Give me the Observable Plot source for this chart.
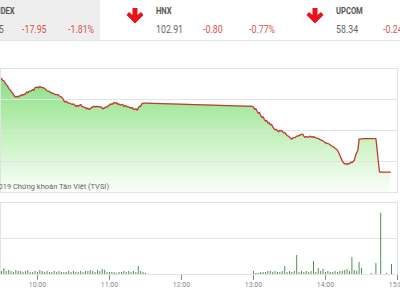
<!DOCTYPE html>
<html><head><meta charset="utf-8">
<script src="https://cdn.jsdelivr.net/npm/d3@7"></script>
<script src="https://cdn.jsdelivr.net/npm/@observablehq/plot@0.6"></script>
<style>
html,body{margin:0;padding:0}
body{width:400px;height:300px;overflow:hidden;background:#fff;font-family:Roboto,sans-serif;position:relative}
.hdr{position:absolute;left:0;top:0;width:400px;height:40px;border-bottom:1px solid #e4e4e4}
.box{position:absolute;left:0;top:0;width:100px;height:40px;background:#eeeeee}
.t{position:absolute;white-space:nowrap;line-height:1;transform-origin:0 0;transform:scaleX(0.8)}
.r{position:absolute;white-space:nowrap;line-height:1;text-align:right;transform-origin:100% 0;transform:scaleX(0.8)}
.name{font-weight:bold;color:#555;font-size:9.5px;top:6px}
.val{font-size:11px;top:24px;color:#666}
.red{color:#d9534f}
.arrow{position:absolute;top:8px}
#main{position:absolute;left:0;top:60px}
#vol{position:absolute;left:0;top:195px}
</style></head><body>
<div class="hdr">
  <div class="box"></div>
  <div class="r name" style="right:385px">VN-INDEX</div>
  <div class="r val" style="right:396px">973.75</div>
  <div class="t val red" style="left:22px">-17.95</div>
  <div class="t val red" style="left:68px">-1.81%</div>
  <svg class="arrow" style="left:126px" width="18" height="16" viewBox="0 0 18 16"><path d="M6.5 0h5v7l3.5-3l2.5 3l-8.5 8.5l-8.5-8.5l2.5-3l3.5 3z" fill="#e8121b"/></svg>
  <div class="t name" style="left:156px">HNX</div>
  <div class="t val" style="left:156px">102.91</div>
  <div class="t val red" style="left:203px">-0.80</div>
  <div class="t val red" style="left:249px">-0.77%</div>
  <svg class="arrow" style="left:306px" width="18" height="16" viewBox="0 0 18 16"><path d="M6.5 0h5v7l3.5-3l2.5 3l-8.5 8.5l-8.5-8.5l2.5-3l3.5 3z" fill="#e8121b"/></svg>
  <div class="t name" style="left:336px">UPCOM</div>
  <div class="t val" style="left:336px">58.34</div>
  <div class="t val red" style="left:383px">-0.24%</div>
</div>
<div id="main"></div>
<div id="vol"></div>
<script>
// ---- data ----
const lineTimes = ["09:29","09:30","09:31","09:32","09:33","09:34","09:35","09:36","09:37","09:38","09:39","09:40","09:41","09:42","09:43","09:44","09:45","09:46","09:47","09:48","09:50","09:51","09:52","09:53","09:55","09:56","09:57","09:58","10:00","10:01","10:02","10:04","10:05","10:07","10:08","10:10","10:11","10:13","10:15","10:17","10:18","10:20","10:21","10:22","10:23","10:24","10:26","10:27","10:29","10:30","10:32","10:33","10:34","10:36","10:37","10:38","10:40","10:41","10:42","10:43","10:44","10:45","10:47","10:48","10:50","10:51","10:53","10:54","10:55","10:56","10:58","11:00","11:01","11:02","11:04","11:05","11:06","11:07","11:08","11:09","11:11","11:12","11:13","11:15","11:16","11:18","11:19","11:20","11:22","11:23","11:24","11:25","11:26","11:27","11:28","11:30","12:59","13:00","13:01","13:02","13:03","13:04","13:05","13:06","13:07","13:08","13:09","13:10","13:11","13:12","13:13","13:14","13:15","13:16","13:17","13:18","13:19","13:20","13:21","13:22","13:24","13:25","13:26","13:27","13:28","13:29","13:30","13:32","13:33","13:35","13:36","13:37","13:39","13:41","13:42","13:43","13:44","13:46","13:47","13:49","13:50","13:52","13:54","13:56","13:58","14:00","14:02","14:04","14:05","14:07","14:08","14:09","14:10","14:11","14:12","14:13","14:14","14:15","14:16","14:17","14:18","14:19","14:20","14:21","14:22","14:23","14:24","14:25","14:26","14:27","14:28","14:32","14:42","14:45","14:54"];
const lineValues = [988.8,988.9,988.6,988.5,988.2,987.9,987.7,987.3,987.1,986.8,986.6,986.3,986.0,985.9,986.0,985.9,986.1,986.1,986.3,986.2,986.4,986.7,986.6,986.8,986.9,987.1,987.0,987.4,987.5,987.4,987.6,987.4,987.4,987.1,986.9,986.8,986.6,986.5,986.3,986.3,986.1,985.9,985.7,985.3,985.1,985.2,984.9,984.9,984.7,984.8,984.4,984.5,984.4,984.7,984.4,984.3,984.2,984.0,984.1,983.9,984.0,984.2,984.4,984.3,984.4,984.3,984.3,984.1,984.0,984.2,984.3,984.6,984.8,984.7,985.0,984.9,985.0,984.7,984.8,984.6,984.7,984.4,984.5,984.3,984.3,984.1,984.2,983.9,984.0,983.8,984.1,984.4,984.4,984.8,984.9,984.9,984.4,984.3,983.9,984.0,983.6,983.3,983.4,982.9,982.6,982.7,982.3,982.0,982.1,981.7,981.8,981.4,981.5,981.1,980.8,980.6,980.7,980.4,980.3,980.5,980.4,980.1,980.2,979.9,979.7,979.6,979.4,979.1,979.3,979.4,979.6,979.6,979.8,979.9,979.6,979.4,979.5,979.4,979.6,979.4,979.5,979.3,979.2,979.0,978.8,978.5,978.4,978.2,978.0,977.8,977.6,977.5,977.3,976.9,976.5,976.0,975.6,975.3,975.1,975.2,975.0,975.2,975.1,975.4,975.3,975.5,975.7,976.4,976.9,977.3,979.1,979.2,979.2,973.8,973.8];
const gridValues = [975.5, 980.5, 985.5];
const yDomain = [970.5, 990.5];
const xDomain = ["09:29", "15:00"];
const tickTimes = ["10:00","11:00","12:00","13:00","14:00","15:00"];
// volume (thousand shares), every 2 minutes per session
const morningStart = "09:30";
const morningVol = [83,165,83,110,83,55,110,83,83,55,83,110,55,55,83,55,110,83,55,83,55,55,83,55,83,55,55,55,83,55,83,55,55,83,55,83,83,110,83,55,110,83,140,120,55,55,55,55,28,55,55,83,55,83,55,83,55,220,83,55,30];
const afternoonStart = "13:00";
const afternoonVol = [83,28,28,55,55,55,83,83,55,83,55,55,83,220,55,83,55,83,530,55,83,55,83,55,83,360,55,165,83,140,55,83,55,55,83,55,83,83,110,140,83,470,110,83,335,165];
const atcTimes = ["14:38","14:42","14:46","14:51","14:55"];
const atcVol = [28,305,1700,28,280];
const volGrid = [1000];
const volDomain = [0, 2000];
const caption = "© 2019 Chứng khoán Tân Việt (TVSI)";

// ---- helpers ----
const toMin = s => { const [h, m] = s.split(":").map(Number); return h * 60 + m + (s === "09:29" ? 0.2 : 0); };
const fmt = m => `${String(Math.floor(m / 60)).padStart(2, "0")}:${String(m % 60).padStart(2, "0")}`;
const lineData = lineTimes.map((t, i) => ({t: toMin(t), v: lineValues[i]}));
const volData = [
  ...morningVol.map((v, i) => ({t: toMin(morningStart) + 2 * i, v})),
  ...afternoonVol.map((v, i) => ({t: toMin(afternoonStart) + 2 * i, v})),
  ...atcTimes.map((t, i) => ({t: toMin(t), v: atcVol[i]}))
];
const xd = xDomain.map(toMin);

const defs = () => {
  const d = d3.create("svg:defs");
  const g = d.append("linearGradient").attr("id", "gfill").attr("x1", 0).attr("y1", 0).attr("x2", 0).attr("y2", 1);
  g.append("stop").attr("offset", "0%").attr("stop-color", "#8be086");
  g.append("stop").attr("offset", "50%").attr("stop-color", "#c4f1bd");
  g.append("stop").attr("offset", "100%").attr("stop-color", "#fafefa");
  return d.node();
};

const main = Plot.plot({
  width: 400, height: 140,
  marginTop: 8, marginBottom: 8, marginLeft: 0, marginRight: 3,
  style: {fontFamily: "Roboto, sans-serif", background: "transparent"},
  x: {domain: xd, axis: null},
  y: {domain: yDomain, axis: null},
  marks: [
    defs,
    Plot.areaY(lineData, {x: "t", y1: yDomain[0], y2: "v", fill: "url(#gfill)"}),
    Plot.ruleY(gridValues, {stroke: "#e2e2e2", strokeWidth: 1}),
    Plot.lineY(lineData, {x: "t", y: "v", stroke: "#bf3a2f", strokeWidth: 1.3}),
    Plot.frame({stroke: "#e2e2e2"}),
    Plot.text([caption], {frameAnchor: "bottom-left", dx: -14, dy: -4, textAnchor: "start", fontSize: 7.5, fill: "#666"})
  ]
});
document.getElementById("main").appendChild(main);

const vol = Plot.plot({
  width: 400, height: 105,
  marginTop: 7, marginBottom: 26, marginLeft: 0, marginRight: 3,
  style: {fontFamily: "Roboto, sans-serif", fontSize: "7px", color: "#888", background: "transparent"},
  x: {domain: xd, ticks: tickTimes.map(toMin), tickFormat: fmt, tickSize: 6, tickPadding: 2, label: null},
  y: {domain: volDomain, axis: null},
  marks: [
    Plot.ruleY(volGrid, {stroke: "#e2e2e2"}),
    Plot.frame({stroke: "#e2e2e2"}),
    Plot.ruleX(volData, {x: "t", y1: 0, y2: "v", stroke: "#2f7d32", strokeWidth: 1, strokeOpacity: 0.85})
  ]
});
document.getElementById("vol").appendChild(vol);
</script>
</body></html>
